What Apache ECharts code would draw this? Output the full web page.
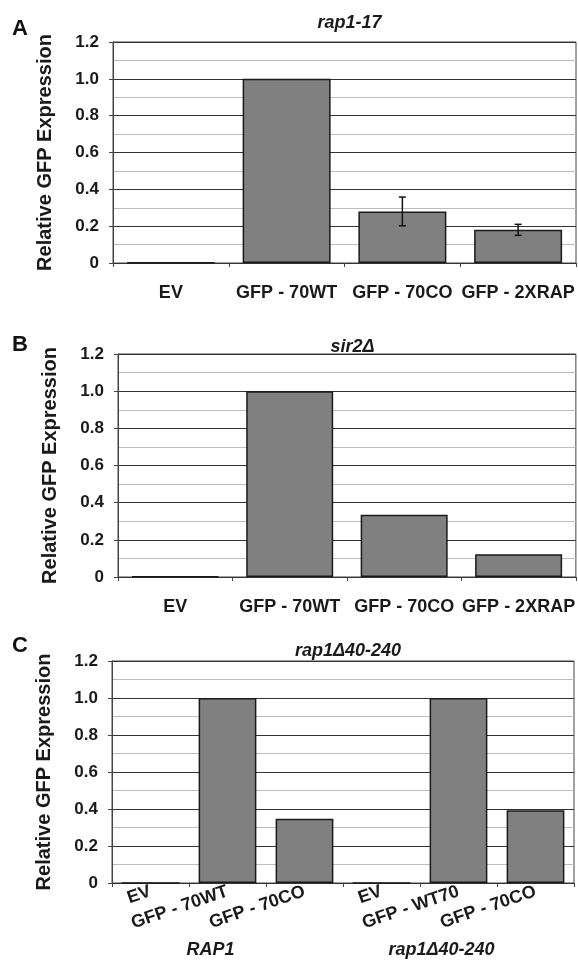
<!DOCTYPE html>
<html lang="en">
<head>
    <meta charset="UTF-8">
    <title>Relative GFP Expression</title>
    <script src="https://cdn.jsdelivr.net/npm/echarts@6/dist/echarts.min.js"></script>
    <style>
        body { margin: 0; background: #fff; }
    </style>
</head>
<body>
    <div id="main" style="width: 578px;height:961px;"></div>

    <script>
        // data
        const catsAB = ['EV', 'GFP - 70WT', 'GFP - 70CO', 'GFP - 2XRAP']
        const rap117 = [0.003, 1.0, 0.28, 0.18]
        const rap117Err = [0, 0, 0.078, 0.03]
        const sir2 = [0.003, 1.0, 0.335, 0.122]
        const catsC = ['EV', 'GFP - 70WT', 'GFP - 70CO', 'EV', 'GFP - WT70', 'GFP - 70CO']
        const rap1d = [0, 1.0, 0.347, 0, 1.0, 0.393]
        const groupsC = ['RAP1', 'rap1Δ40-240']
        const panelTitles = ['rap1-17', 'sir2Δ', 'rap1Δ40-240']
        const panelLetters = ['A', 'B', 'C']

        const font = 'Liberation Sans, Arial, sans-serif'
        const mychart = echarts.init(document.getElementById("main"))

        const grids = [
            { left: 113, right: 2, top: 42, height: 221 },
            { left: 118, right: 1, top: 354, height: 223 },
            { left: 112, right: 4, top: 661, height: 222 }
        ]

        function yAxisFor(i) {
            return {
                type: 'value', gridIndex: i, min: 0, max: 1.2, interval: 0.2,
                name: 'Relative GFP Expression', nameLocation: 'middle', nameGap: 58,
                nameTextStyle: { fontFamily: font, fontWeight: 'bold', fontSize: 20, color: '#1a1a1a' },
                axisLine: { show: true, lineStyle: { color: '#444', width: 1 } },
                axisTick: { show: true, length: 4, lineStyle: { color: '#444' } },
                axisLabel: {
                    margin: 14, fontFamily: font, fontWeight: 'bold', fontSize: 17, color: '#1a1a1a',
                    formatter: v => v === 0 ? '0' : v.toFixed(1)
                },
                splitLine: { show: true, lineStyle: { color: '#333', width: 1.2 } },
                minorTick: { show: false, splitNumber: 2 },
                minorSplitLine: { show: true, lineStyle: { color: '#bdbdbd', width: 1 } }
            }
        }

        function xAxisFor(i, cats, rotate, margin) {
            return {
                type: 'category', gridIndex: i, data: cats,
                axisLine: { show: true, lineStyle: { color: '#333', width: 1.2 } },
                axisTick: { show: true, length: 4, lineStyle: { color: '#444' } },
                axisLabel: {
                    interval: 0, rotate: rotate, margin: margin,
                    fontFamily: font, fontWeight: 'bold', fontSize: 18, color: '#1a1a1a'
                }
            }
        }

        const barStyle = { color: '#808080', borderColor: '#1a1a1a', borderWidth: 1.5 }

        function errorItem(params, api) {
            const x = api.value(0)
            const v = api.value(1)
            const e = api.value(2)
            const hi = api.coord([x, v + e])
            const lo = api.coord([x, v - e])
            const cap = 3.5
            const style = { stroke: '#111', lineWidth: 1.5 }
            return {
                type: 'group',
                children: [
                    { type: 'line', shape: { x1: hi[0], y1: hi[1], x2: lo[0], y2: lo[1] }, style: style },
                    { type: 'line', shape: { x1: hi[0] - cap, y1: hi[1], x2: hi[0] + cap, y2: hi[1] }, style: style },
                    { type: 'line', shape: { x1: lo[0] - cap, y1: lo[1], x2: lo[0] + cap, y2: lo[1] }, style: style }
                ]
            }
        }

        const errData = rap117.map((v, i) => [i, v, rap117Err[i]]).filter(d => d[2] > 0)

        const titleTops = [9, 333, 637]
        const letterTops = [13, 329, 630]
        const titles = []
        grids.forEach((g, i) => {
            titles.push({
                text: panelTitles[i], left: g.left + (578 - g.left - g.right) / 2, top: titleTops[i],
                textAlign: 'center',
                textStyle: { fontFamily: font, fontWeight: 'bold', fontStyle: 'italic', fontSize: 18, color: '#1a1a1a' }
            })
            titles.push({
                text: panelLetters[i], left: 7, top: letterTops[i],
                textStyle: { fontFamily: font, fontWeight: 'bold', fontSize: 22, color: '#111' }
            })
        })

        const option = {
            animation: false,
            backgroundColor: '#fff',
            title: titles,
            grid: grids.map(g => Object.assign({ show: true, borderColor: '#444', borderWidth: 1 }, g)),
            xAxis: [
                xAxisFor(0, catsAB, 0, 21),
                xAxisFor(1, catsAB, 0, 21),
                xAxisFor(2, catsC, 19, 8),
                {
                    // group names under panel C
                    type: 'category', gridIndex: 2, data: groupsC, position: 'bottom',
                    axisLine: { show: false }, axisTick: { show: false }, splitLine: { show: false },
                    axisLabel: {
                        margin: 58, padding: [0, 34, 0, 0], fontFamily: font, fontWeight: 'bold',
                        fontStyle: 'italic', fontSize: 18, color: '#1a1a1a'
                    }
                }
            ],
            yAxis: [yAxisFor(0), yAxisFor(1), yAxisFor(2)],
            series: [
                { type: 'bar', xAxisIndex: 0, yAxisIndex: 0, data: rap117, barCategoryGap: '24%', itemStyle: barStyle },
                {
                    type: 'custom', xAxisIndex: 0, yAxisIndex: 0, data: errData,
                    encode: { x: 0, y: 1 }, renderItem: errorItem, z: 5
                },
                { type: 'bar', xAxisIndex: 1, yAxisIndex: 1, data: sir2, barCategoryGap: '24%', itemStyle: barStyle },
                { type: 'bar', xAxisIndex: 2, yAxisIndex: 2, data: rap1d, barCategoryGap: '25%', itemStyle: barStyle }
            ]
        }
        mychart.setOption(option)
    </script>
</body>
</html>
